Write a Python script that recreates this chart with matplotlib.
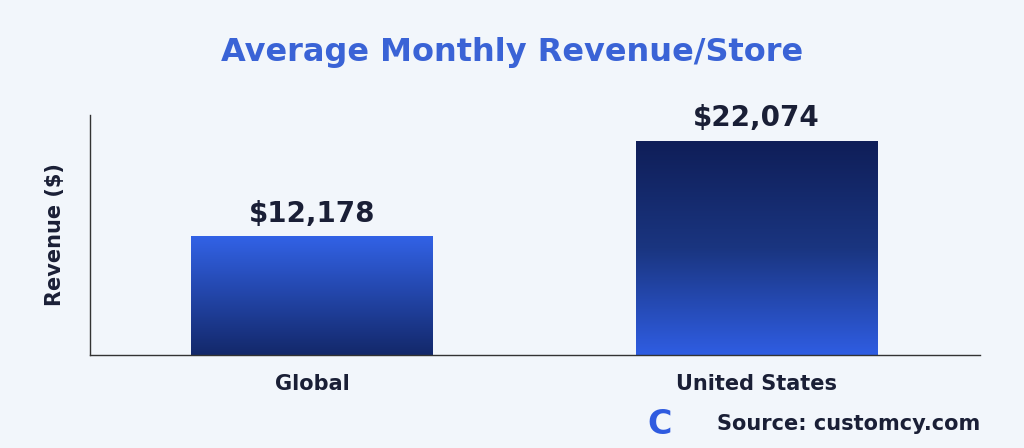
import numpy as np
import matplotlib.pyplot as plt
from matplotlib.colors import LinearSegmentedColormap

# data
categories = ['Global', 'United States']
revenue = [12178, 22074]
labels = ['$12,178', '$22,074']

bg = '#f2f6fb'
fig = plt.figure(figsize=(10.24, 4.48), dpi=100, facecolor=bg)
ax = fig.add_axes([90/1024, 1-355/448, 890/1024, 240/448], facecolor=bg)

x = np.arange(len(categories))
w = 0.543
ax.set_xlim(-0.5, 1.504)
ax.set_ylim(0, 24757)

# gradient bars: light top -> dark bottom for first, reversed for second
cm_up = LinearSegmentedColormap.from_list('up', ['#13286a', '#3262e6'])
cm_down = LinearSegmentedColormap.from_list('down', ['#2f5de2', '#1a3580', '#0f1e58'])
grad = np.linspace(0, 1, 256).reshape(-1, 1)
for i, (xi, v) in enumerate(zip(x, revenue)):
    cm = cm_up if i == 0 else cm_down
    ax.imshow(grad, cmap=cm, aspect='auto', origin='lower',
              extent=(xi - w/2, xi + w/2, 0, v), zorder=2)
    ax.text(xi, v + 900, labels[i], ha='center', va='bottom',
            fontsize=20, fontweight='bold', color='#1a1f36')

ax.set_xticks(x)
ax.set_xticklabels(categories, fontsize=15, fontweight='bold', color='#1a1f36')
ax.tick_params(axis='x', length=0, pad=14)
ax.set_yticks([])
ax.set_ylabel('Revenue ($)', fontsize=15, fontweight='bold', color='#1a1f36', labelpad=18)
for s in ['top', 'right']:
    ax.spines[s].set_visible(False)
for s in ['left', 'bottom']:
    ax.spines[s].set_color('#333333')
    ax.spines[s].set_linewidth(1)

fig.text(0.5, 1-52/448, 'Average Monthly Revenue/Store', ha='center', va='center',
         fontsize=23, fontweight='bold', color='#3a63d6')
fig.text(980/1024, 1-424/448, 'Source: customcy.com', ha='right', va='center',
         fontsize=15, fontweight='bold', color='#1a1f36')
fig.text(660/1024, 1-424/448, 'C', ha='center', va='center',
         fontsize=24, fontweight='bold', color='#2f5be0')

fig.savefig('out.png', dpi=100, facecolor=bg)
